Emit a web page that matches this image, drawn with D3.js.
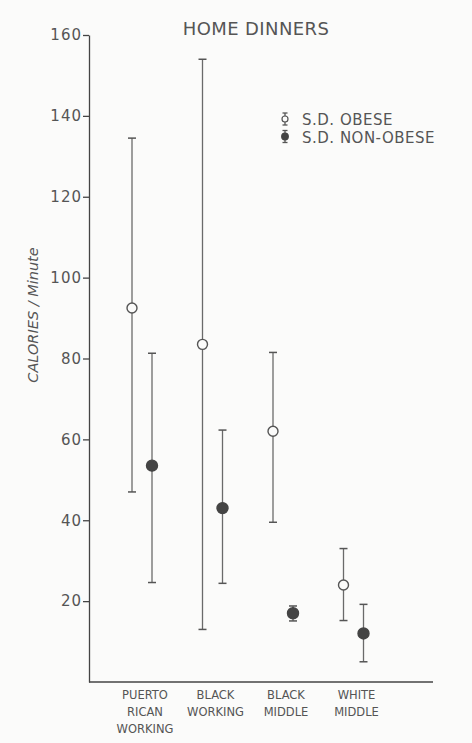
<!DOCTYPE html>
<html>
<head>
<meta charset="utf-8">
<script src="https://cdn.jsdelivr.net/npm/d3@7"></script>
<style>
  body { margin: 0; background: #fbfbfa; }
  svg { display: block; }
  text { font-family: "DejaVu Sans", sans-serif; fill: #555; }
</style>
</head>
<body>
<div id="chart"></div>
<script>
// groups along the x axis (each label split into lines)
var groups = ["PUERTO RICAN WORKING", "BLACK WORKING", "BLACK MIDDLE", "WHITE MIDDLE"];
var groupLines = [["PUERTO", "RICAN", "WORKING"], ["BLACK", "WORKING"], ["BLACK", "MIDDLE"], ["WHITE", "MIDDLE"]];

// obese: mean and +/- S.D. ends
var obeseMean = [92.5, 83.5, 62, 24];
var obeseHigh = [134.5, 154, 81.5, 33];
var obeseLow  = [47, 13, 39.5, 15.2];

// non-obese
var nonObeseMean = [53.5, 43, 17, 12];
var nonObeseHigh = [81.3, 62.3, 18.8, 19.2];
var nonObeseLow  = [24.6, 24.4, 15.1, 5];

var yTicks = [20, 40, 60, 80, 100, 120, 140, 160];

var width = 472, height = 743;
var svg = d3.select('#chart').append('svg')
    .attr('width', width)
    .attr('height', height);

var y = d3.scaleLinear().domain([0, 160]).range([682, 35]);
var x = d3.scalePoint().domain(groups).range([142, 353.5]);
var axisLeft = 89, axisRight = 433;

var series = [
    { name: "S.D. OBESE", mean: obeseMean, hi: obeseHigh, lo: obeseLow, dx: -10, filled: false },
    { name: "S.D. NON-OBESE", mean: nonObeseMean, hi: nonObeseHigh, lo: nonObeseLow, dx: 10, filled: true }
];

// title
svg.append('text')
    .attr('x', 256).attr('y', 35)
    .attr('text-anchor', 'middle')
    .style('font-size', '18px')
    .style('letter-spacing', '0.4px')
    .text('HOME DINNERS');

// y axis
var yAxis = svg.append('g')
    .attr('transform', 'translate(' + axisLeft + ',0)')
    .call(d3.axisLeft(y).tickValues(yTicks).tickSize(6).tickSizeOuter(0).tickPadding(1));
yAxis.select('.domain').attr('stroke', '#444').attr('stroke-width', 1.3);
yAxis.selectAll('.tick line').attr('stroke', '#444').attr('stroke-width', 1.3);
yAxis.selectAll('.tick text')
    .style('font-size', '15px')
    .style('letter-spacing', '1px')
    .style('font-family', '"DejaVu Sans", sans-serif')
    .attr('fill', '#555');

// x axis baseline
svg.append('line')
    .attr('x1', axisLeft).attr('x2', axisRight)
    .attr('y1', y(0)).attr('y2', y(0))
    .attr('stroke', '#444').attr('stroke-width', 1.3);

// x labels
groups.forEach(function (g, i) {
    var t = svg.append('text')
        .attr('text-anchor', 'middle')
        .style('font-size', '11.5px')
        .attr('transform', 'translate(' + (x(g) + 3) + ',' + 699 + ')');
    groupLines[i].forEach(function (line, j) {
        t.append('tspan').attr('x', 0).attr('dy', j == 0 ? 0 : 17).text(line);
    });
});

// y label
svg.append('text')
    .attr('transform', 'translate(38,315) rotate(-90)')
    .attr('text-anchor', 'middle')
    .style('font-size', '14.5px')
    .style('font-style', 'italic')
    .text('CALORIES / Minute');

// error bars
var cap = 4;
series.forEach(function (s) {
    var g = svg.append('g');
    groups.forEach(function (grp, i) {
        var cx = x(grp) + s.dx;
        g.append('line')
            .attr('x1', cx).attr('x2', cx)
            .attr('y1', y(s.hi[i])).attr('y2', y(s.lo[i]))
            .attr('stroke', '#6a6a6a').attr('stroke-width', 1.3);
        [s.hi[i], s.lo[i]].forEach(function (v) {
            g.append('line')
                .attr('x1', cx - cap).attr('x2', cx + cap)
                .attr('y1', y(v)).attr('y2', y(v))
                .attr('stroke', '#555').attr('stroke-width', 1.5);
        });
        g.append('circle')
            .attr('cx', cx).attr('cy', y(s.mean[i]))
            .attr('r', s.filled ? 5.5 : 5)
            .attr('fill', s.filled ? '#444' : '#fbfbfa')
            .attr('stroke', s.filled ? '#444' : '#555')
            .attr('stroke-width', 1.4);
    });
});

// legend
series.forEach(function (s, i) {
    var ly = 119 + i * 17.5;
    var lx = 285;
    svg.append('line')
        .attr('x1', lx).attr('x2', lx).attr('y1', ly - 6).attr('y2', ly + 6)
        .attr('stroke', '#555').attr('stroke-width', 1.3);
    [ly - 6, ly + 6].forEach(function (cy) {
        svg.append('line')
            .attr('x1', lx - 2.5).attr('x2', lx + 2.5).attr('y1', cy).attr('y2', cy)
            .attr('stroke', '#555').attr('stroke-width', 1.3);
    });
    svg.append('circle')
        .attr('cx', lx).attr('cy', ly).attr('r', s.filled ? 3.3 : 3)
        .attr('fill', s.filled ? '#444' : '#fbfbfa')
        .attr('stroke', s.filled ? '#444' : '#555')
        .attr('stroke-width', 1.2);
    svg.append('text')
        .attr('x', 302).attr('y', ly + 6)
        .style('font-size', '15px')
        .style('letter-spacing', '0.5px')
        .text(s.name);
});
</script>
</body>
</html>
